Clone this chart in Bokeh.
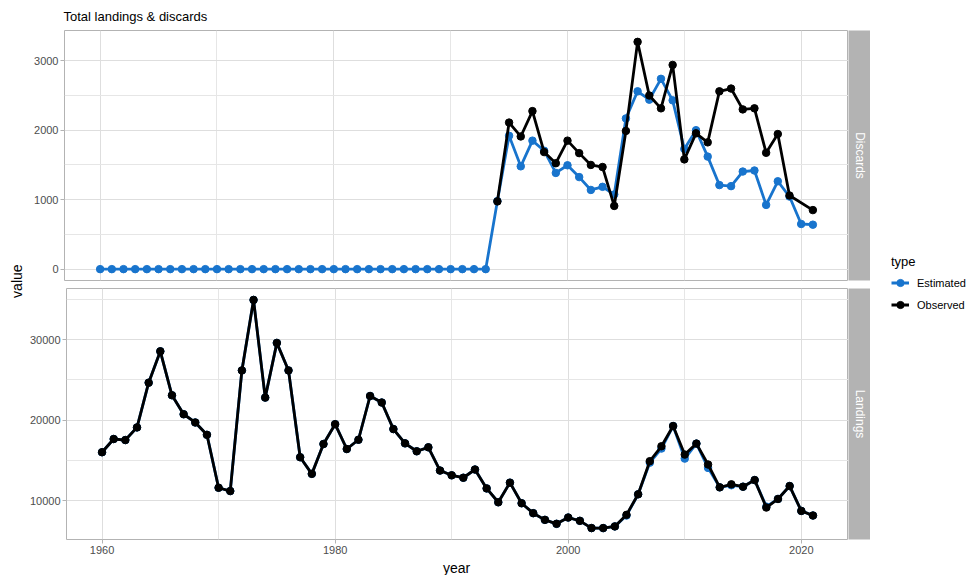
import numpy as np
from bokeh.plotting import figure
from bokeh.models import Range1d, FixedTicker, Legend, LegendItem
from bokeh.layouts import row, column
from bokeh.embed import file_html
from bokeh.resources import INLINE
from bokeh.core.properties import value

FONT = "Liberation Sans"
BLUE = "#1874CD"
BLACK = "#000000"
GREY70 = "#B3B3B3"

# ---------------- data ----------------
years = list(range(1960, 2022))

discards_estimated = [0, 0, 0, 0, 0, 0, 0, 0, 0, 0,
                      0, 0, 0, 0, 0, 0, 0, 0, 0, 0,
                      0, 0, 0, 0, 0, 0, 0, 0, 0, 0,
                      0, 0, 0, 0,
                      980, 1920, 1480, 1850, 1705, 1385, 1495, 1325, 1140, 1185,
                      1075, 2170, 2560, 2440, 2740, 2430, 1730, 2000, 1620, 1210,
                      1195, 1405, 1420, 925, 1265, 1045, 650, 640]

discards_obs_years = [1994, 1995, 1996, 1997, 1998, 1999, 2000, 2001, 2002, 2003,
                      2004, 2005, 2006, 2007, 2008, 2009, 2010, 2011, 2012, 2013,
                      2014, 2015, 2016, 2017, 2018, 2019, 2021]
discards_observed = [975, 2110, 1910, 2275, 1685, 1525, 1850, 1670, 1500, 1470,
                     910, 1990, 3272, 2500, 2315, 2940, 1580, 1955, 1825, 2560,
                     2600, 2300, 2315, 1675, 1945, 1060, 850]

landings_observed = [16040, 17680, 17550, 19120, 24660, 28550, 23100, 20750, 19730, 18200,
                     11640, 11230, 26180, 34920, 22810, 29590, 26180, 15420, 13360, 17060,
                     19520, 16440, 17590, 23010, 22200, 18910, 17140, 16160, 16650, 13770,
                     13180, 12880, 13900, 11560, 9840, 12270, 9720, 8490, 7660, 7170,
                     7950, 7540, 6640, 6640, 6850, 8280, 10830, 14930, 16780, 19290,
                     15750, 17110, 14520, 11690, 12060, 11770, 12590, 9190, 10250, 11850,
                     8770, 8200]
landings_estimated = [16040, 17680, 17550, 19120, 24660, 28550, 23100, 20750, 19730, 18200,
                      11640, 11230, 26180, 34920, 22810, 29590, 26180, 15420, 13360, 17060,
                      19520, 16440, 17590, 23010, 22200, 18910, 17140, 16160, 16650, 13770,
                      13180, 12880, 13900, 11560, 9840, 12270, 9720, 8490, 7660, 7170,
                      7950, 7540, 6640, 6640, 6850, 8200, 10830, 14750, 16500, 19290,
                      15250, 17110, 14100, 11690, 11950, 11770, 12590, 9300, 10250, 11850,
                      8770, 8200]

panel_labels = ["Discards", "Landings"]
series_labels = ["Estimated", "Observed"]
x_ticks = [1960, 1980, 2000, 2020]
x_minor = [1970, 1990, 2010]
d_ticks = [0, 1000, 2000, 3000]
d_minor = [500, 1500, 2500]
l_ticks = [10000, 20000, 30000]
l_minor = [15000, 25000, 35000]

# ---------------- helpers ----------------
def expand(vals, f=0.05):
    lo, hi = min(vals), max(vals)
    d = (hi - lo) * f
    return lo - d, hi + d

xr = expand(years)
LB = 38      # left border (y tick labels)
FW = 784     # frame width
PW = LB + FW


def panel(height, yvals, yticks, yminor, top, bottom):
    p = figure(width=PW, height=height, output_backend="svg", toolbar_location=None,
               x_range=Range1d(*xr), y_range=Range1d(*expand(yvals)),
               min_border_left=LB, min_border_right=0,
               min_border_top=top, min_border_bottom=bottom)
    p.outline_line_color = GREY70
    p.outline_line_width = 1
    p.background_fill_color = "white"
    p.border_fill_color = "white"
    p.xaxis.ticker = FixedTicker(ticks=x_ticks, minor_ticks=x_minor)
    p.yaxis.ticker = FixedTicker(ticks=yticks, minor_ticks=yminor)
    for ax in (p.xaxis[0], p.yaxis[0]):
        ax.axis_line_color = None
        ax.major_tick_line_color = GREY70
        ax.major_tick_out = 4
        ax.major_tick_in = 0
        ax.minor_tick_line_color = None
        ax.major_label_text_font = FONT
        ax.major_label_text_font_size = "11px"
        ax.major_label_text_color = "#4D4D4D"
        ax.major_label_standoff = 2
    for g in (p.xgrid[0], p.ygrid[0]):
        g.grid_line_color = "#DEDEDE"
        g.grid_line_width = 1
        g.minor_grid_line_color = "#E6E6E6"
        g.minor_grid_line_width = 1
    return p


def strip(height, label, top, bottom):
    s = figure(width=22, height=height, output_backend="svg", toolbar_location=None,
               x_range=Range1d(0, 1), y_range=Range1d(0, 1),
               x_axis_type=None, y_axis_type=None,
               min_border_left=0, min_border_right=0,
               min_border_top=top, min_border_bottom=bottom)
    s.background_fill_color = GREY70
    s.border_fill_color = "white"
    s.outline_line_color = None
    s.text(x=[0.5], y=[0.5], text=[label], angle=-np.pi / 2,
           text_align="center", text_baseline="middle", text_color="white",
           text_font=value(FONT), text_font_size="12px")
    return s


LW = 2.8
PS = 7.5

# ---------------- top panel: discards ----------------
TOP1, FR1, BOT1 = 30, 250, 4
p1 = panel(TOP1 + FR1 + BOT1, discards_estimated + discards_observed,
           d_ticks, d_minor, TOP1, BOT1)
p1.xaxis.visible = False
p1.title.text = "Total landings & discards"
p1.title.text_font = FONT
p1.title.text_font_size = "13px"
p1.title.text_font_style = "normal"
p1.title.text_color = "#000000"
p1.title.align = "left"
p1.title.standoff = 13
p1.title.offset = -1

p1.line(years, discards_estimated, color=BLUE, line_width=LW)
p1.scatter(years, discards_estimated, color=BLUE, size=PS)
p1.line(discards_obs_years, discards_observed, color=BLACK, line_width=LW)
p1.scatter(discards_obs_years, discards_observed, color=BLACK, size=PS)

# ---------------- bottom panel: landings ----------------
TOP2, FR2, BOT2 = 4, 251, 19
p2 = panel(TOP2 + FR2 + BOT2, landings_estimated + landings_observed,
           l_ticks, l_minor, TOP2, BOT2)

p2.line(years, landings_estimated, color=BLUE, line_width=LW)
p2.scatter(years, landings_estimated, color=BLUE, size=PS)
p2.line(years, landings_observed, color=BLACK, line_width=LW)
p2.scatter(years, landings_observed, color=BLACK, size=PS)

s1 = strip(TOP1 + FR1 + BOT1, panel_labels[0], TOP1, BOT1)
s2 = strip(TOP2 + FR2 + BOT2, panel_labels[1], TOP2, BOT2)

# ---------------- x axis title ----------------
XT_H = 17
xt = figure(width=PW, height=XT_H, output_backend="svg", toolbar_location=None,
            x_range=Range1d(0, 1), y_range=Range1d(0, 1),
            x_axis_type=None, y_axis_type=None,
            min_border_left=LB, min_border_right=0, min_border_top=0, min_border_bottom=0)
xt.outline_line_color = None
xt.text(x=[0.5], y=[0.47], text=["year"],
        text_align="center", text_baseline="middle", text_color="#000000",
        text_font=value(FONT), text_font_size="14px")

TOTAL_H = (TOP1 + FR1 + BOT1) + (TOP2 + FR2 + BOT2) + XT_H

# ---------------- y axis title ----------------
vlab = figure(width=26, height=TOTAL_H, output_backend="svg", toolbar_location=None,
              x_range=Range1d(0, 1), y_range=Range1d(0, 1),
              x_axis_type=None, y_axis_type=None, min_border=0)
vlab.outline_line_color = None
vlab.text(x=[0.65], y=[0.505], text=["value"], angle=np.pi / 2,
          text_align="center", text_baseline="middle", text_color="#000000",
          text_font=value(FONT), text_font_size="14px")

# ---------------- legend ----------------
leg = figure(width=96, height=TOTAL_H, output_backend="svg", toolbar_location=None,
             x_range=Range1d(0, 1), y_range=Range1d(0, 1),
             x_axis_type=None, y_axis_type=None, min_border=0,
             min_border_bottom=8)
leg.outline_line_color = None
colors = [BLUE, BLACK]
items = []
for lab, c in zip(series_labels, colors):
    rl = leg.line(x=[np.nan], y=[np.nan], color=c, line_width=LW)
    rs = leg.scatter(x=[np.nan], y=[np.nan], color=c, size=PS)
    items.append(LegendItem(label=lab, renderers=[rl, rs]))
legend = Legend(items=items, location="center_left", title="type",
                title_text_font=FONT, title_text_font_size="13px",
                title_text_font_style="normal", title_text_color="#000000",
                title_standoff=4,
                label_text_font=FONT, label_text_font_size="11px",
                label_text_color="#000000",
                glyph_width=18, glyph_height=20, label_height=20,
                label_standoff=8, spacing=2, padding=0, margin=21,
                border_line_color=None, background_fill_alpha=0)
leg.add_layout(legend)

layout = row(vlab, column(row(p1, s1), row(p2, s2), xt), leg)

open("out.html", "w").write(file_html(layout, INLINE))
